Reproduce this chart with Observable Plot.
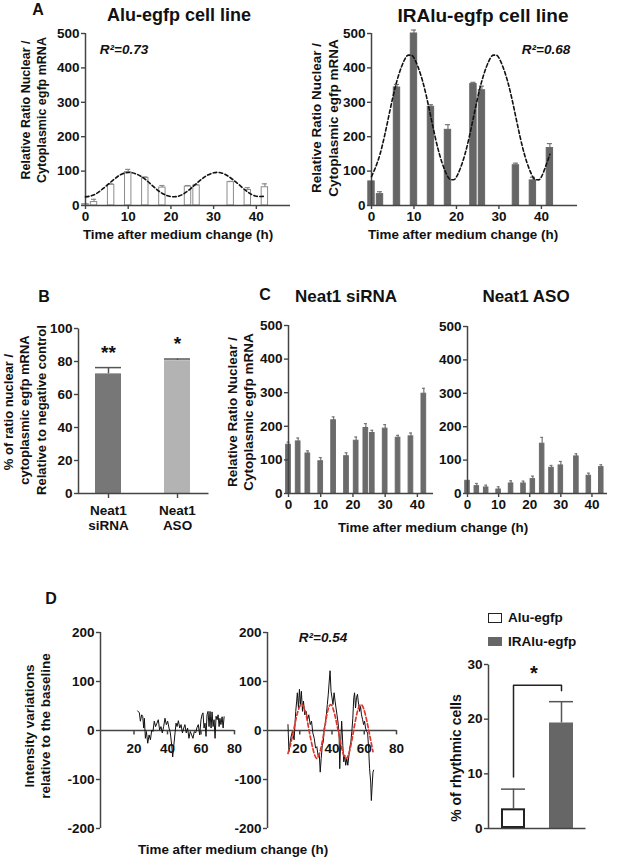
<!DOCTYPE html>
<html><head><meta charset="utf-8">
<script src="https://cdn.jsdelivr.net/npm/d3@7"></script>
<script src="https://cdn.jsdelivr.net/npm/@observablehq/plot@0.6"></script>
<style>
body{margin:0;background:#fff;overflow:hidden;}
#root{position:relative;width:617px;height:867px;font-family:"Liberation Sans",Arial,Helvetica,sans-serif;font-weight:bold;color:#111;overflow:hidden;}
.t{position:absolute;white-space:nowrap;transform:translate(-50%,-50%);line-height:1;}
#root svg{position:absolute;overflow:visible;}
.sq{position:absolute;box-sizing:border-box;}
</style></head><body><div id="root"></div>
<script>
// ---------- DATA ----------
// Panel A
const aTimes = [0, 2, 6, 10, 14, 18, 24, 26, 34, 38, 42];
const aluValues = [4, 10, 60, 97, 80, 52, 55, 58, 68, 45, 53];
const aluSem = [0, 8, 3, 8, 3, 6, 3, 3, 2, 7, 10];
const iraluValues = [70, 33, 343, 500, 287, 220, 353, 335, 117, 73, 167];
const iraluSem = [0, 7, 9, 10, 6, 15, 5, 12, 6, 9, 13];
const aluFitT = [0, 2, 4, 6, 8, 10, 12, 14, 16, 18, 20, 22, 24, 26, 28, 30, 32, 34, 36, 38, 40, 42];
const aluFitV = [25, 31, 48, 69, 88, 96, 91, 76, 54, 35, 26, 28, 43, 64, 84, 95, 94, 80, 60, 39, 27, 27];
const iraluFitT = [0, 2, 4, 6, 8, 9, 10, 12, 14, 16, 18, 19, 20, 22, 24, 26, 28, 29, 30, 32, 34, 36, 38, 39, 40, 42];
const iraluFitV = [84, 149, 256, 363, 429, 437, 429, 363, 256, 149, 83, 75, 83, 149, 256, 363, 429, 437, 429, 363, 256, 149, 83, 75, 83, 149];
const aYTicks = [0, 100, 200, 300, 400, 500];
const aXTicks = [0, 10, 20, 30, 40];
// Panel B
const bCats = ["Neat1 siRNA", "Neat1 ASO"];
const bValues = [72.5, 80.5];
const bSem = [3.8, 1.0];
const bSig = ["**", "*"];
const bYTicks = [0, 20, 40, 60, 80, 100];
// Panel C
const cSiTimes = [0, 3, 6, 10, 14, 18, 21, 24, 26, 30, 34, 38, 42];
const cSiValues = [145, 155, 119, 96, 218, 111, 157, 195, 180, 193, 166, 170, 297];
const cSiSem = [8, 10, 8, 11, 10, 10, 11, 13, 8, 12, 7, 10, 16];
const cAsoTimes = [0, 3, 6, 10, 14, 18, 21, 24, 27, 30, 35, 39, 43];
const cAsoValues = [38, 22, 18, 12, 30, 30, 43, 149, 77, 84, 111, 53, 79];
const cAsoSem = [0, 8, 7, 8, 8, 7, 9, 19, 7, 12, 8, 8, 7];
// Panel D
const dAluT = [22.2,23.2,23.8,24.6,25.2,25.8,26.2,26.8,27.4,28.2,29.0,29.8,30.6,31.3,32.1,32.9,33.7,34.5,35.3,36.1,36.9,37.7,38.5,39.3,40.1,40.9,41.7,42.5,43.1,43.7,44.5,45.1,45.7,46.5,47.3,48.1,48.9,49.7,50.4,51.2,52.0,52.8,53.6,54.4,55.2,56.0,56.8,57.6,58.4,59.2,60.0,60.6,61.2,61.8,62.4,63.0,63.6,64.2,64.8,65.4,66.0,66.6,67.2,67.8,68.4,69.0,69.6,70.2,70.8,71.3,71.9,72.6,73.2,73.8];
const dAluV = [40,36,19,32,29,5,25,-16,-2,-26,-9,-19,1,-2,19,8,15,22,1,8,-5,8,25,12,19,5,-5,-30,-54,-33,-5,15,8,20,5,12,-5,5,12,-5,5,-16,-2,-9,-16,-2,-5,6,12,-9,22,32,36,5,15,-12,32,39,8,39,5,38,8,22,-16,29,22,32,8,25,12,28,5,28];
const dIrT = [12.7,13.3,14.4,15.4,16.5,17.5,18.1,18.5,19.2,19.8,20.4,21.0,21.7,22.3,23.1,24.0,24.8,25.6,26.5,27.3,28.1,29.0,29.8,30.6,31.5,32.1,32.7,33.3,34.0,34.6,35.2,35.8,36.5,37.1,37.7,38.3,38.8,39.4,40.0,40.6,41.3,41.9,42.5,43.1,43.8,44.4,44.8,45.4,46.0,46.7,47.3,47.9,48.5,49.2,49.8,50.4,51.0,51.7,52.3,52.9,53.5,54.0,54.6,55.2,55.8,56.5,57.1,57.7,58.3,59.0,59.6,60.2,60.8,61.5,62.1,62.7,63.3,64.0,64.4,64.8,65.4,65.8];
const dIrV = [12,-43,-16,-2,-19,39,60,77,46,84,53,80,39,60,32,39,22,32,12,19,-5,-16,-36,-33,-54,-47,-85,-57,-30,-23,5,12,32,53,74,101,122,80,67,53,77,60,46,32,15,-9,-78,-23,19,-30,-64,-50,-71,-57,-71,-54,-36,-23,-2,25,67,77,46,67,74,53,39,49,32,22,12,19,5,-2,-5,-36,-78,-105,-143,-119,-85,-81];
const dFitT = [12.7,14.5,16.5,18.5,21,23.5,25.8,28.2,30.6,33,35.2,37,39.2,41.5,43.8,46.2,48.7,51.2,53.4,55.7,58.1,60.5,62.8,65.4];
const dFitV = [-47,-25,5,35,53,38,0,-38,-57,-38,0,35,53,35,0,-38,-57,-38,0,38,53,35,0,-43];
const dYTicks = [-200, -100, 0, 100, 200];
const dXTicks = [20, 40, 60, 80];
const rGroups = ["Alu-egfp", "IRAlu-egfp"];
const rValues = [3.6, 19.3];
const rSem = [3.6, 3.9];
const rYTicks = [0, 10, 20, 30];

// ---------- HELPERS ----------
const root = document.getElementById("root");
const FONT = '"Liberation Sans", Arial, Helvetica, sans-serif';
const baseStyle = {fontFamily: FONT, fontSize: "13px", fontWeight: "bold", color: "#111", background: "transparent", overflow: "visible"};
function place(svg, left, top) { svg.style.position = "absolute"; svg.style.left = left + "px"; svg.style.top = top + "px"; root.appendChild(svg); }
function label(text, x, y, size, opt = {}) {
  const d = document.createElement("div");
  d.className = "t";
  d.textContent = text;
  d.style.left = x + "px"; d.style.top = y + "px"; d.style.fontSize = size + "px";
  if (opt.rotate) d.style.transform = "translate(-50%,-50%) rotate(-90deg)";
  if (opt.italic) d.style.fontStyle = "italic";
  root.appendChild(d);
}
const AX = {stroke: "#444", strokeWidth: 1.4, fill: "#111", label: null, fontSize: 13.5, fontWeight: "bold", fontFamily: FONT};
const TXT = {fill: "#111", fontSize: 13.5, fontWeight: "bold", fontFamily: FONT};
const LINE = {stroke: "#444", strokeWidth: 1.5};
const hyphen = d => String(d);
const toRows = (ts, vs, ss) => ts.map((t, i) => ({t, v: vs[i], e: vs[i] + ss[i], s: ss[i]}));
// draws only the left and bottom edges of the frame (axis lines of a band chart)
const lFrame = (w, h) => Plot.frame({...LINE, strokeDasharray: `0,${w + h},${w + h}`});

function timeBars(rows, o) {
  const hw = o.bw / 2, cw = o.cw / 2;
  const withErr = rows.filter(d => d.s > 0);
  return [
    Plot.ruleX(withErr, {x: "t", y1: "v", y2: "e", stroke: o.err, strokeWidth: 1.2}),
    Plot.ruleY(withErr, {y: "e", x1: d => d.t - cw, x2: d => d.t + cw, stroke: o.err, strokeWidth: 1.2}),
    Plot.rect(rows, {x1: d => d.t - hw, x2: d => d.t + hw, y1: 0, y2: "v", fill: o.fill, stroke: o.stroke, strokeWidth: 1}),
    Plot.axisY({...AX, ticks: o.yTicks, tickSize: 4, tickPadding: 2, tickFormat: hyphen}),
    Plot.axisX({...AX, ticks: o.xTicks, tickSize: 4, tickPadding: 2, tickFormat: hyphen}),
    Plot.ruleX([0], LINE),
    Plot.ruleY([0], LINE)
  ];
}

// ---------- PANEL A ----------
const aluRows = toRows(aTimes, aluValues, aluSem);
const iraluRows = toRows(aTimes, iraluValues, iraluSem);
place(Plot.plot({
  width: 300, height: 230, marginLeft: 85, marginRight: 10, marginTop: 13, marginBottom: 45,
  x: {domain: [0, 48]}, y: {domain: [0, 500]}, style: baseStyle,
  marks: [
    ...timeBars(aluRows, {yTicks: aYTicks, xTicks: aXTicks, bw: 1.5, cw: 1.2, fill: "white", stroke: "#8c8c8c", err: "#8c8c8c"}),
    Plot.line(aluFitT.map((t, i) => ({t, v: aluFitV[i]})), {x: "t", y: "v", curve: "natural", stroke: "#111", strokeWidth: 1.6, strokeDasharray: "3.5,2.5"})
  ]
}), 0, 20);

place(Plot.plot({
  width: 290, height: 230, marginLeft: 71, marginRight: 13, marginTop: 13, marginBottom: 45,
  x: {domain: [0, 48.5]}, y: {domain: [0, 500]}, style: baseStyle,
  marks: [
    ...timeBars(iraluRows, {yTicks: aYTicks, xTicks: aXTicks, bw: 1.5, cw: 1.2, fill: "#666", stroke: "#666", err: "#777"}),
    Plot.line(iraluFitT.map((t, i) => ({t, v: iraluFitV[i]})), {x: "t", y: "v", curve: "natural", stroke: "#111", strokeWidth: 1.6, strokeDasharray: "3.5,2.5"})
  ]
}), 300, 20);

label("A", 38, 10, 16);
label("Alu-egfp cell line", 179, 15, 18);
label("IRAlu-egfp cell line", 483, 15, 19);
label("R²=0.73", 124, 50, 13.5, {italic: true});
label("R²=0.68", 546, 50, 13.5, {italic: true});
label("Relative Ratio Nuclear /", 26, 110, 12.5, {rotate: true});
label("Cytoplasmic egfp mRNA", 42, 110, 12.5, {rotate: true});
label("Relative Ratio Nuclear /", 317, 118, 13.5, {rotate: true});
label("Cytoplasmic egfp mRNA", 334, 118, 13.5, {rotate: true});
label("Time after medium change (h)", 178, 235, 13.4);
label("Time after medium change (h)", 463, 235, 13.4);

// ---------- PANEL B ----------
const bRows = bCats.map((c, i) => ({c, v: bValues[i], e: bValues[i] + bSem[i], sig: bSig[i]}));
const bFills = ["#777", "#b3b3b3"];
place(Plot.plot({
  width: 230, height: 230, marginLeft: 78, marginRight: 22, marginTop: 18, marginBottom: 47,
  x: {domain: bCats, paddingInner: 0.62, paddingOuter: 0.25},
  y: {domain: [0, 100]}, style: baseStyle,
  marks: [
    Plot.ruleX(bRows, {x: "c", y1: "v", y2: "e", stroke: "#555", strokeWidth: 1.5}),
    Plot.tickY(bRows, {x: "c", y: "e", stroke: "#555", strokeWidth: 1.5}),
    ...bRows.map((r, i) => Plot.barY([r], {x: "c", y: "v", fill: bFills[i]})),
    Plot.axisY({...AX, ticks: bYTicks, tickSize: 4, tickPadding: 2}),
    Plot.axisX({...AX, tickSize: 5, tickPadding: 5, lineHeight: 1.15, tickFormat: d => d.replace(" ", "\n")}),
    lFrame(230 - 78 - 22, 230 - 18 - 47),
    Plot.text(bRows, {x: "c", y: "e", text: "sig", dy: -15, ...TXT, fontSize: 19})
  ]
}), 0, 310);
label("B", 44, 297, 16);
label("% of ratio nuclear /", 8, 412, 13, {rotate: true});
label("cytoplasmic egfp mRNA", 24, 410, 13, {rotate: true});
label("Relative to negative control", 41, 410, 13, {rotate: true});

// ---------- PANEL C ----------
const siRows = toRows(cSiTimes, cSiValues, cSiSem);
const asoRows = toRows(cAsoTimes, cAsoValues, cAsoSem);
place(Plot.plot({
  width: 220, height: 230, marginLeft: 68, marginRight: 7, marginTop: 15, marginBottom: 47,
  x: {domain: [0, 45]}, y: {domain: [0, 500]}, style: baseStyle,
  marks: timeBars(siRows, {yTicks: aYTicks, xTicks: aXTicks, bw: 1.45, cw: 0.9, fill: "#6b6b6b", stroke: "#6b6b6b", err: "#777"})
}), 220, 310);
place(Plot.plot({
  width: 177, height: 230, marginLeft: 27, marginRight: 10, marginTop: 16, marginBottom: 47,
  x: {domain: [0, 45]}, y: {domain: [0, 500]}, style: baseStyle,
  marks: timeBars(asoRows, {yTicks: aYTicks, xTicks: aXTicks, bw: 1.45, cw: 0.9, fill: "#6b6b6b", stroke: "#6b6b6b", err: "#777"})
}), 440, 310);
label("C", 265, 295, 16);
label("Neat1 siRNA", 346, 296, 17);
label("Neat1 ASO", 526, 296, 17);
label("Relative Ratio Nuclear /", 233, 412, 13.5, {rotate: true});
label("Cytoplasmic egfp mRNA", 249, 412, 13.5, {rotate: true});
label("Time after medium change (h)", 433, 528, 13.4);

// ---------- PANEL D ----------
function traceChart(trace, fit) {
  const marks = [
    Plot.axisY({...AX, ticks: dYTicks, tickSize: 4, tickPadding: 2, tickFormat: hyphen}),
    Plot.ruleX([0], LINE),
    Plot.ruleY([0], LINE),
    Plot.ruleX(dXTicks, {x: d => d, y1: 0, y2: -9, ...LINE}),
    Plot.text(dXTicks, {x: d => d, y: 0, dy: 18, text: hyphen, ...TXT}),
    Plot.line(trace, {x: "t", y: "v", stroke: "#111", strokeWidth: 1})
  ];
  if (fit) marks.push(Plot.line(fit, {x: "t", y: "v", curve: "natural", stroke: "#e0352d", strokeWidth: 1.7, strokeDasharray: "4,2.5"}));
  return marks;
}
const aluTrace = dAluT.map((t, i) => ({t, v: dAluV[i]}));
const irTrace = dIrT.map((t, i) => ({t, v: dIrV[i]}));
const irFit = dFitT.map((t, i) => ({t, v: dFitV[i]}));
place(Plot.plot({
  width: 240, height: 240, marginLeft: 100, marginRight: 6, marginTop: 22, marginBottom: 22,
  x: {domain: [0, 80], axis: null}, y: {domain: [-200, 200]}, style: baseStyle,
  marks: traceChart(aluTrace, null)
}), 0, 610);
place(Plot.plot({
  width: 200, height: 240, marginLeft: 57, marginRight: 14, marginTop: 22, marginBottom: 22,
  x: {domain: [0, 80], axis: null}, y: {domain: [-200, 200]}, style: baseStyle,
  marks: traceChart(irTrace, irFit)
}), 210, 610);

const rRows = rGroups.map((g, i) => ({g, v: rValues[i], e: rValues[i] + rSem[i]}));
const bracketTop = d3.max(rRows, d => d.e) + 3;
const bracket = [
  {g: rGroups[0], y: rRows[0].e + 2.2},
  {g: rGroups[0], y: bracketTop},
  {g: rGroups[1], y: bracketTop},
  {g: rGroups[1], y: rRows[1].e + 2}
];
place(Plot.plot({
  width: 187, height: 200, marginLeft: 58, marginRight: 32, marginTop: 14, marginBottom: 22,
  x: {domain: rGroups, paddingInner: 0.5, paddingOuter: 0.26, axis: null},
  y: {domain: [0, 30]}, style: baseStyle,
  marks: [
    Plot.ruleX(rRows, {x: "g", y1: "v", y2: "e", stroke: "#555", strokeWidth: 1.5}),
    Plot.tickY(rRows, {x: "g", y: "e", stroke: "#555", strokeWidth: 1.5}),
    Plot.barY([rRows[0]], {x: "g", y: "v", fill: "white", stroke: "#222", strokeWidth: 2, inset: 1}),
    Plot.barY([rRows[1]], {x: "g", y: "v", fill: "#666"}),
    Plot.line(bracket, {x: "g", y: "y", stroke: "#222", strokeWidth: 1.5}),
    Plot.axisY({...AX, ticks: rYTicks, tickSize: 4, tickPadding: 2}),
    lFrame(187 - 58 - 32, 200 - 14 - 22)
  ]
}), 430, 650);

label("D", 51, 599, 16);
label("Intensity variations", 30, 726, 13.5, {rotate: true});
label("relative to the baseline", 46, 726, 13.5, {rotate: true});
label("Time after medium change (h)", 233, 850, 13.4);
label("R²=0.54", 323, 638, 13.5, {italic: true});
label("% of rhythmic cells", 456, 758, 14, {rotate: true});
label("*", 534, 673, 20);
// legend
function sq(x, y, w, h, fill, border) {
  const d = document.createElement("div");
  d.className = "sq";
  Object.assign(d.style, {left: x + "px", top: y + "px", width: w + "px", height: h + "px", background: fill, border: border});
  root.appendChild(d);
}
sq(488, 613, 14, 10, "white", "1.5px solid #222");
sq(488, 637, 14, 9, "#666", "none");
const lg1 = document.createElement("div"); lg1.className = "t"; lg1.textContent = rGroups[0];
Object.assign(lg1.style, {left: "508px", top: "618px", fontSize: "13.5px", transform: "translate(0,-50%)"}); root.appendChild(lg1);
const lg2 = document.createElement("div"); lg2.className = "t"; lg2.textContent = rGroups[1];
Object.assign(lg2.style, {left: "508px", top: "642px", fontSize: "13.5px", transform: "translate(0,-50%)"}); root.appendChild(lg2);
</script>
</body></html>
